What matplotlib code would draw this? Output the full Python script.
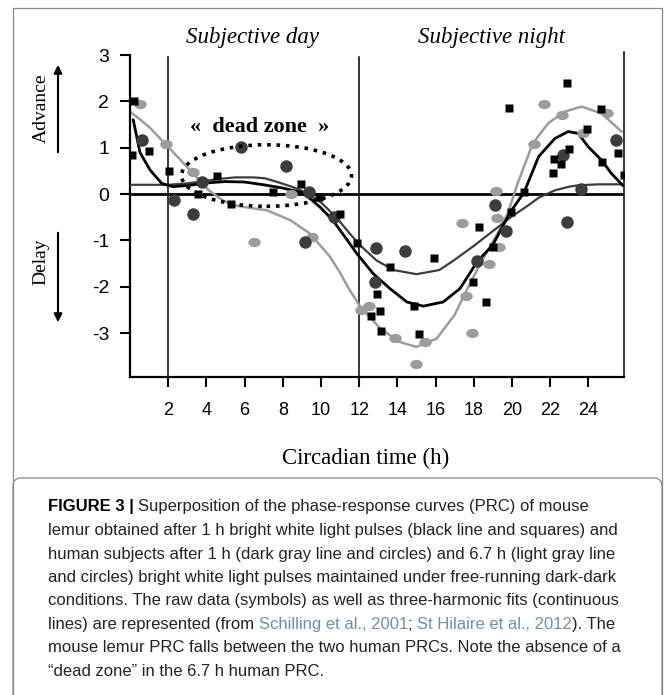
import numpy as np
import matplotlib.pyplot as plt
from matplotlib.patches import Ellipse, Rectangle, FancyBboxPatch, FancyArrowPatch
from matplotlib.path import Path
from matplotlib.transforms import Affine2D

# raw data (circadian time h, phase shift h)
lemur_x = [0.22, 0.12, 1.0, 2.04, 3.58, 4.55, 5.29, 7.47, 8.97, 9.88, 11.0, 11.87,
           12.62, 12.95, 13.1, 13.12, 13.6, 14.89, 15.15, 15.92, 17.94, 18.29, 18.66,
           18.99, 19.86, 19.93, 20.64, 22.16, 22.21, 22.57, 22.9, 23.0, 23.93, 24.64,
           24.74, 25.57, 25.85]
lemur_y = [2.01, 0.84, 0.93, 0.50, 0.01, 0.39, -0.22, 0.05, 0.22, -0.06, -0.42, -1.05,
           -2.63, -2.15, -2.53, -2.96, -1.58, -2.42, -3.02, -1.37, -1.90, -0.71, -2.33,
           -1.14, 1.85, -0.38, 0.04, 0.45, 0.75, 0.66, 2.39, 0.97, 1.40, 1.83,
           0.70, 0.89, 0.41]

human1_x = [0.65, 2.3, 3.28, 3.75, 5.81, 8.15, 9.16, 9.35, 10.7, 12.83, 12.88, 14.41,
            18.17, 19.09, 19.67, 22.65, 22.9, 23.6, 25.44]
human1_y = [1.17, -0.13, -0.43, 0.27, 1.01, 0.61, -1.03, 0.05, -0.49, -1.89, -1.17, -1.22,
            -1.44, -0.23, -0.8, 0.84, -0.6, 0.12, 1.17]

human67_x = [0.52, 1.87, 3.28, 6.49, 8.43, 9.51, 12.09, 12.53, 13.87, 14.97, 15.45, 17.38,
             17.57, 17.92, 18.78, 19.16, 19.23, 19.34, 21.15, 21.7, 22.64, 23.73, 24.96]
human67_y = [1.94, 1.09, 0.48, -1.04, 0.0, -0.92, -2.51, -2.41, -3.1, -3.66, -3.2, -0.63,
             -2.2, -2.99, -1.5, 0.07, -0.51, -1.14, 1.09, 1.94, 1.71, 1.31, 1.76]

# three-harmonic fits
fit_lemur_x = [0.17, 0.52, 1.05, 1.66, 2.25, 3.14, 4.0, 5.0, 6.0, 7.0, 8.0, 9.0, 9.5, 10.0,
               10.65, 11.3, 11.87, 12.74, 13.61, 14.5, 15.36, 16.4, 17.28, 18.2, 19.0, 19.9,
               20.64, 21.4, 22.25, 22.95, 23.47, 24.0, 24.7, 25.2, 25.8]
fit_lemur_y = [1.6, 0.9, 0.52, 0.23, 0.16, 0.19, 0.24, 0.27, 0.26, 0.2, 0.13, 0.03, -0.12,
               -0.3, -0.58, -0.95, -1.28, -1.72, -2.04, -2.33, -2.42, -2.33, -2.04, -1.45,
               -1.1, -0.4, 0.04, 0.81, 1.2, 1.35, 1.31, 1.02, 0.73, 0.45, 0.19]

fit_h1_x = [0, 1, 2, 3, 3.75, 4.5, 5.5, 6.5, 7.07, 7.8, 8.46, 9.0, 9.5, 10.0, 10.5, 11.0,
            11.5, 12.04, 12.9, 13.8, 15.0, 16.2, 17.0, 18.0, 19.0, 20.0, 20.8, 21.4,
            22.25, 23.0, 23.5, 24.5, 25.8]
fit_h1_y = [0.2, 0.2, 0.2, 0.23, 0.27, 0.32, 0.36, 0.36, 0.34, 0.25, 0.16, 0.07, -0.05,
            -0.18, -0.38, -0.6, -0.85, -1.1, -1.43, -1.64, -1.73, -1.64, -1.42, -1.12,
            -0.8, -0.48, -0.26, -0.08, 0.08, 0.16, 0.19, 0.21, 0.21]

fit_h67_x = [0, 0.5, 1.0, 1.83, 2.5, 3.23, 4.1, 4.8, 5.4, 6.3, 7.16, 8.38, 9.42, 10.47,
             11.0, 11.5, 12.04, 13.1, 14.1, 15.0, 16.06, 17.0, 17.5, 18.4, 19.3, 19.8,
             20.3, 21.1, 21.9, 22.77, 23.65, 24.7, 25.74]
fit_h67_y = [1.78, 1.62, 1.45, 1.09, 0.8, 0.48, 0.09, -0.12, -0.24, -0.3, -0.35, -0.56,
             -0.85, -1.35, -1.7, -2.07, -2.42, -2.9, -3.19, -3.3, -3.12, -2.61, -2.18,
             -1.46, -0.81, -0.4, 0.23, 1.1, 1.53, 1.78, 1.89, 1.74, 1.35]

x_ticks = [2, 4, 6, 8, 10, 12, 14, 16, 18, 20, 22, 24]
y_ticks = [3, 2, 1, 0, -1, -2, -3]

W, H = 672, 695
fig = plt.figure(figsize=(W / 100, H / 100), dpi=100)


def fx(px):
    return px / W


def fy(py):
    return 1 - py / H


serif = 'Liberation Serif'
sans = 'Liberation Sans'

dark = '#3d3d3d'
light = '#9c9c9c'

ax = fig.add_axes([fx(130), fy(377), fx(624) - fx(130), fy(50.5) - fy(377)])
ax.set_xlim(0, 25.87)
ax.set_ylim(-3.95, 3.1)

# fits
ax.plot(fit_h67_x, fit_h67_y, color=light, lw=1.8, zorder=2)
ax.plot(fit_h1_x, fit_h1_y, color=dark, lw=1.6, zorder=3)
ax.plot(fit_lemur_x, fit_lemur_y, color='black', lw=2.0, zorder=4)

# raw data
ell = Path.unit_circle().transformed(Affine2D().scale(1.35, 1.0))
ax.plot(human67_x, human67_y, ls='none', marker=ell, ms=9, color=light, mec='none', zorder=5)
ax.plot(human1_x, human1_y, ls='none', marker='o', ms=9, color=dark, mec='none', zorder=6)
ax.plot(lemur_x, lemur_y, ls='none', marker='s', ms=6, color='black', mec='none', zorder=7)

# reference lines
ax.axhline(0, color='black', lw=2.0, zorder=1)
ax.plot([2, 2], [-3.95, 2.95], color='black', lw=1.1, zorder=1)
ax.plot([12, 12], [-3.95, 2.95], color='black', lw=1.1, zorder=1)

# dead zone ellipse
ax.add_patch(Ellipse((7.15, 0.4), 8.9, 1.33, fill=False, ls=(0, (1, 1.6)), lw=2.6,
                     color='black', zorder=8))
ax.text(6.8, 1.45, '«  dead zone  »', ha='center', va='center', fontsize=16,
        fontweight='bold', family=serif)

# axes styling
ax.spines['top'].set_visible(False)
ax.spines['left'].set_bounds(-3.95, 3)
ax.spines['right'].set_bounds(-3.95, 3.07)
ax.spines['left'].set_linewidth(1.6)
ax.spines['bottom'].set_linewidth(1.6)
ax.spines['right'].set_linewidth(1.1)
ax.set_xticks(x_ticks)
ax.set_xticklabels([str(t) for t in x_ticks], family=sans, fontsize=13)
ax.set_yticks(y_ticks)
ax.set_yticklabels([str(t) for t in y_ticks], family=sans, fontsize=14)
ax.tick_params(axis='both', direction='out', length=7, width=1.5)
ax.tick_params(axis='x', pad=11)
ax.tick_params(axis='y', pad=8)

fig.text(fx(366), fy(458), 'Circadian time (h)', ha='center', va='center', family=serif,
         fontsize=16.5)
fig.text(fx(253), fy(38), 'Subjective day', ha='center', va='center', family=serif,
         style='italic', fontsize=16.5)
fig.text(fx(492), fy(38), 'Subjective night', ha='center', va='center', family=serif,
         style='italic', fontsize=16.5)

# advance / delay
fig.text(fx(41), fy(108), 'Advance', rotation=90, ha='center', va='center', family=serif,
         fontsize=14)
fig.text(fx(41), fy(262), 'Delay', rotation=90, ha='center', va='center', family=serif,
         fontsize=14)
fig.patches.append(FancyArrowPatch((fx(58), fy(155)), (fx(58), fy(62)),
                                   transform=fig.transFigure, arrowstyle='-|>',
                                   mutation_scale=12, lw=1.5, color='black'))
fig.patches.append(FancyArrowPatch((fx(58), fy(230)), (fx(58), fy(325)),
                                   transform=fig.transFigure, arrowstyle='-|>',
                                   mutation_scale=12, lw=1.5, color='black'))

# frames
fig.patches.append(Rectangle((fx(13), fy(720)), fx(662) - fx(13), fy(8) - fy(720),
                             transform=fig.transFigure, fill=False, ec='#8a8a8a', lw=0.9))
fig.patches.append(FancyBboxPatch((fx(13), fy(720)), fx(662) - fx(13), fy(478) - fy(720),
                                  boxstyle='round,pad=0,rounding_size=0.012',
                                  transform=fig.transFigure, fill=False, ec='#8a8a8a', lw=0.9))

# caption
cite = '#6f8fae'
txtc = '#222222'
caption = [
    [('FIGURE 3 | ', 'bold', 'black'), ('Superposition of the phase-response curves (PRC) of mouse', 'normal', txtc)],
    [('lemur obtained after 1 h bright white light pulses (black line and squares) and', 'normal', txtc)],
    [('human subjects after 1 h (dark gray line and circles) and 6.7 h (light gray line', 'normal', txtc)],
    [('and circles) bright white light pulses maintained under free-running dark-dark', 'normal', txtc)],
    [('conditions. The raw data (symbols) as well as three-harmonic fits (continuous', 'normal', txtc)],
    [('lines) are represented (from ', 'normal', txtc), ('Schilling et al., 2001', 'normal', cite),
     ('; ', 'normal', txtc), ('St Hilaire et al., 2012', 'normal', cite), ('). The', 'normal', txtc)],
    [('mouse lemur PRC falls between the two human PRCs. Note the absence of a', 'normal', txtc)],
    [('\u201cdead zone\u201d in the 6.7 h human PRC.', 'normal', txtc)],
]
renderer = fig.canvas.get_renderer()
y0 = 507
for i, line in enumerate(caption):
    x = 48
    for txt, weight, col in line:
        t = fig.text(fx(x), fy(y0 + i * 23.5), txt, ha='left', va='center', family=sans,
                     fontsize=12, fontweight=weight, color=col)
        x += t.get_window_extent(renderer).width

fig.savefig('out.png', dpi=100)
